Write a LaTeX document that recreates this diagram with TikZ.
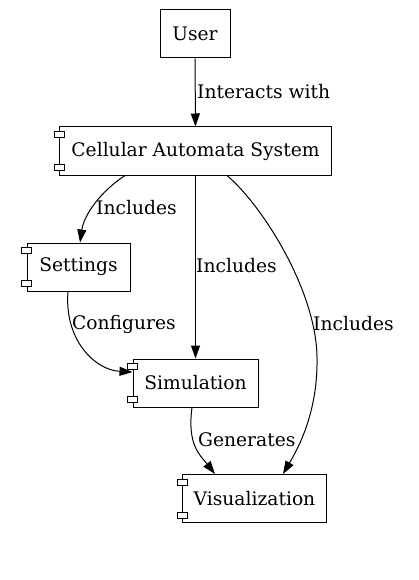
\documentclass[tikz,border=0pt]{standalone}
\usepackage{fontspec}
\setmainfont{DejaVu Serif}
\usepackage{tikz}
\usetikzlibrary{arrows.meta}

% two small port boxes on the left side of a component
\newcommand{\ports}[1]{%
  \draw[port] ([xshift=-5pt,yshift=-5pt]#1.north west) rectangle ++(10pt,-6pt);
  \draw[port] ([xshift=-5pt,yshift=5pt]#1.south west) rectangle ++(10pt,6pt);
}

\begin{document}
\begin{tikzpicture}[
    x=1pt, y=-1pt,
    box/.style={rectangle, draw, line width=1pt, fill=white, minimum height=48pt,
                inner sep=0pt, font=\fontsize{18.67}{22}\selectfont},
    port/.style={fill=white, line width=1pt},
    lbl/.style={anchor=west, inner sep=0pt, font=\fontsize{18.67}{22}\selectfont},
    arrow/.style={-{Triangle[length=13pt,width=9pt]}, line width=1pt}
]
    \useasboundingbox (0,0) rectangle (418,580);

    % Nodes
    \node[box, minimum width=70pt] (user) at (195,34) {User};
    \node[box, minimum width=272pt] (cas) at (195.5,151) {Cellular Automata System};
    \node[box, minimum width=103pt] (settings) at (78.5,267) {Settings};
    \node[box, minimum width=125pt] (sim) at (195.5,383) {Simulation};
    \node[box, minimum width=144pt] (vis) at (254.5,498.5) {Visualization};
    \ports{cas}
    \ports{settings}
    \ports{sim}
    \ports{vis}

    % Edges
    \draw[arrow] (user) -- (cas);
    \draw[arrow] ([xshift=-70.5pt]cas.south) .. controls (100,192) and (84,215) .. ([xshift=1.5pt]settings.north);
    \draw[arrow] (cas) -- (sim);
    \draw[arrow] ([xshift=31.5pt]cas.south) .. controls (262,205) and (316,290) .. (317,357)
        .. controls (318,410) and (300,445) .. ([xshift=28.5pt]vis.north);
    \draw[arrow] ([xshift=-10.5pt]settings.south) .. controls (64,340) and (95,370) .. ([yshift=11pt]sim.west);
    \draw[arrow] ([xshift=-3.5pt]sim.south) .. controls (187,445) and (200,455) .. ([xshift=-39.5pt]vis.north);

    % Edge labels
    \node[lbl] (l1) at (197,92) {Interacts with};
    \node[lbl] (l2) at (96,208) {Includes};
    \node[lbl] (l3) at (196,266) {Includes};
    \node[lbl] (l4) at (313,324) {Includes};
    \node[lbl] (l5) at (72,324) {Configures};
    \node[lbl] (l6) at (198,440) {Generates};
\end{tikzpicture}
\end{document}
